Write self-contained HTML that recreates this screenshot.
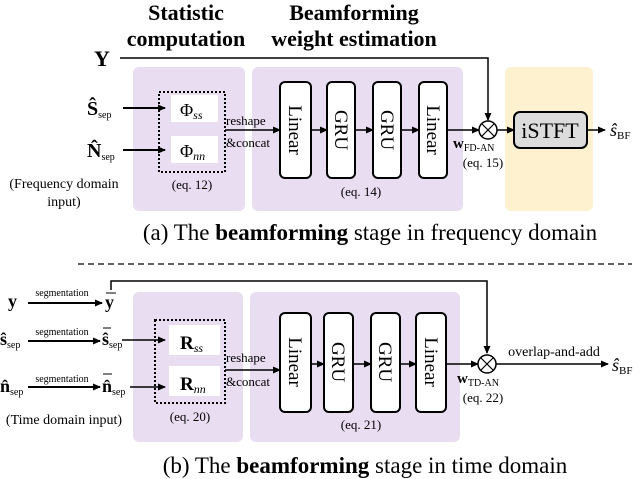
<!DOCTYPE html>
<html><head><meta charset="utf-8"><style>body{margin:0;background:#fff}svg{display:block}text{font-family:"Liberation Serif",serif}</style></head><body>
<svg width="640" height="479" viewBox="0 0 640 479" xmlns="http://www.w3.org/2000/svg" font-family="'Liberation Serif', serif">
<defs><marker id="a" markerWidth="8" markerHeight="8" refX="7" refY="4" orient="auto" markerUnits="userSpaceOnUse"><path d="M0,0.5 L8,4 L0,7.5z" fill="#000"/></marker></defs>
<text x="186" y="20" style="font-family:'Liberation Serif',serif;font-size:22px;font-weight:bold" text-anchor="middle">Statistic</text>
<text x="186" y="46" style="font-family:'Liberation Serif',serif;font-size:22px;font-weight:bold" text-anchor="middle">computation</text>
<text x="354" y="20" style="font-family:'Liberation Serif',serif;font-size:22px;font-weight:bold" text-anchor="middle">Beamforming</text>
<text x="354" y="46" style="font-family:'Liberation Serif',serif;font-size:22px;font-weight:bold" text-anchor="middle">weight estimation</text>
<rect x="133" y="67" width="112" height="144" rx="6" fill="#e9ddf1"/>
<rect x="252" y="67" width="211" height="144" rx="6" fill="#e9ddf1"/>
<rect x="505" y="67" width="88" height="144" rx="6" fill="#fdf1cf"/>
<text x="94" y="66" font-size="22" font-weight="bold">Y</text>
<polyline points="120,58 488,58 488,120" fill="none" stroke="#000" stroke-width="1.5" marker-end="url(#a)"/>
<text x="87" y="115" font-size="20" font-weight="bold">Ŝ<tspan font-size="10" font-weight="normal" dy="3">sep</tspan></text>
<text x="87" y="157" font-size="20" font-weight="bold">N̂<tspan font-size="10" font-weight="normal" dy="3">sep</tspan></text>
<line x1="123" y1="108" x2="165" y2="108" stroke="#000" stroke-width="2" marker-end="url(#a)"/>
<line x1="123" y1="150" x2="165" y2="150" stroke="#000" stroke-width="2" marker-end="url(#a)"/>
<rect x="159" y="92" width="66" height="80" fill="none" stroke="#000" stroke-width="2" stroke-dasharray="2,2"/>
<rect x="171" y="95" width="47" height="27" fill="#fff"/>
<rect x="171" y="136" width="47" height="27" fill="#fff"/>
<text x="180" y="116" font-size="18">Φ<tspan font-size="12" font-style="italic" dy="3">ss</tspan></text>
<text x="180" y="157" font-size="18">Φ<tspan font-size="12" font-style="italic" dy="3">nn</tspan></text>
<text x="192" y="189" font-size="13" text-anchor="middle">(eq. 12)</text>
<text x="64" y="188" font-size="14" text-anchor="middle">(Frequency domain</text>
<text x="64" y="206" font-size="14" text-anchor="middle">input)</text>
<text x="226" y="125" font-size="13">reshape</text>
<text x="226" y="147" font-size="13">&amp;concat</text>
<line x1="225" y1="130" x2="280" y2="130" stroke="#000" stroke-width="1.5" marker-end="url(#a)"/>
<g stroke="#000" stroke-width="2" fill="#fff">
<rect x="280" y="82" width="31" height="96" rx="5"/><rect x="327" y="82" width="28" height="96" rx="5"/><rect x="373" y="82" width="28" height="96" rx="5"/><rect x="419" y="82" width="28" height="96" rx="5"/>
</g>
<g stroke="#000" stroke-width="1.5">
<line x1="311" y1="130" x2="327" y2="130" marker-end="url(#a)"/><line x1="355" y1="130" x2="373" y2="130" marker-end="url(#a)"/><line x1="401" y1="130" x2="419" y2="130" marker-end="url(#a)"/><line x1="447" y1="130" x2="479" y2="130" marker-end="url(#a)"/><line x1="497" y1="130" x2="514" y2="130" marker-end="url(#a)"/><line x1="587" y1="130" x2="605" y2="130" marker-end="url(#a)"/>
</g>
<g font-size="19">
<text transform="translate(289,130) rotate(90)" text-anchor="middle">Linear</text>
<text transform="translate(335,130) rotate(90)" text-anchor="middle">GRU</text>
<text transform="translate(381,130) rotate(90)" text-anchor="middle">GRU</text>
<text transform="translate(427,130) rotate(90)" text-anchor="middle">Linear</text>
</g>
<text x="361" y="196" font-size="13" text-anchor="middle">(eq. 14)</text>
<circle cx="488" cy="130" r="9" fill="#fff" stroke="#000" stroke-width="1.5"/>
<path d="M482,124 L494,136 M494,124 L482,136" stroke="#000" stroke-width="1.2"/>
<text x="453" y="148" font-size="15" font-weight="bold">w<tspan font-size="10" font-weight="normal" dy="3">FD-AN</tspan></text>
<text x="483" y="167" font-size="13" text-anchor="middle">(eq. 15)</text>
<rect x="514" y="112" width="73" height="36" rx="6" fill="#dcdcdc" stroke="#000" stroke-width="2"/>
<text x="550" y="138" font-size="22" text-anchor="middle">iSTFT</text>
<text x="610" y="136" font-size="18" font-style="italic">ŝ<tspan font-size="11" font-style="normal" dy="3">BF</tspan></text>
<text x="370" y="240" font-size="23" text-anchor="middle">(a) The <tspan font-weight="bold">beamforming</tspan> stage in frequency domain</text>
<line x1="78" y1="264" x2="632" y2="264" stroke="#000" stroke-width="1.3" stroke-dasharray="6,4"/>
<rect x="133" y="292" width="110" height="150" rx="6" fill="#e9ddf1"/>
<rect x="250" y="292" width="210" height="150" rx="6" fill="#e9ddf1"/>
<polyline points="111,290 111,281 487,281 487,353" fill="none" stroke="#000" stroke-width="1.5" marker-end="url(#a)"/>
<text x="8" y="307" font-size="18" font-weight="bold">y</text>
<text x="105" y="308" font-size="18" font-weight="bold">y</text><line x1="106" y1="293" x2="116" y2="293" stroke="#000"/>
<text x="62" y="296" font-size="10" text-anchor="middle">segmentation</text>
<line x1="28" y1="303" x2="102" y2="303" stroke="#000" stroke-width="2" marker-end="url(#a)"/>
<text x="0" y="345" font-size="18" font-weight="bold">ŝ<tspan font-size="10" font-weight="normal" dy="3">sep</tspan></text>
<text x="62" y="335" font-size="10" text-anchor="middle">segmentation</text>
<line x1="28" y1="341" x2="100" y2="341" stroke="#000" stroke-width="2" marker-end="url(#a)"/>
<text x="102" y="345" font-size="18" font-weight="bold">ŝ<tspan font-size="10" font-weight="normal" dy="3">sep</tspan></text><line x1="103" y1="328" x2="111" y2="328" stroke="#000"/>
<line x1="122" y1="340" x2="165" y2="340" stroke="#000" stroke-width="1.5" marker-end="url(#a)"/>
<text x="0" y="392" font-size="18" font-weight="bold">n̂<tspan font-size="10" font-weight="normal" dy="3">sep</tspan></text>
<text x="62" y="382" font-size="10" text-anchor="middle">segmentation</text>
<line x1="28" y1="387" x2="100" y2="387" stroke="#000" stroke-width="2" marker-end="url(#a)"/>
<text x="102" y="392" font-size="18" font-weight="bold">n̂<tspan font-size="10" font-weight="normal" dy="3">sep</tspan></text><line x1="103" y1="374" x2="112" y2="374" stroke="#000"/>
<line x1="130" y1="387" x2="165" y2="387" stroke="#000" stroke-width="1.5" marker-end="url(#a)"/>
<text x="64" y="424" font-size="14" text-anchor="middle">(Time domain input)</text>
<rect x="155" y="320" width="70" height="83" fill="none" stroke="#000" stroke-width="2" stroke-dasharray="2,2"/>
<rect x="169" y="325" width="51" height="30" fill="#fff"/>
<rect x="169" y="366" width="51" height="30" fill="#fff"/>
<text x="180" y="349" font-size="19" font-weight="bold">R<tspan font-size="12" font-weight="normal" font-style="italic" dy="3">ss</tspan></text>
<text x="180" y="390" font-size="19" font-weight="bold">R<tspan font-size="12" font-weight="normal" font-style="italic" dy="3">nn</tspan></text>
<text x="190" y="421" font-size="13" text-anchor="middle">(eq. 20)</text>
<text x="226" y="362" font-size="13">reshape</text>
<text x="226" y="386" font-size="13">&amp;concat</text>
<line x1="225" y1="370" x2="280" y2="370" stroke="#000" stroke-width="1.5" marker-end="url(#a)"/>
<g stroke="#000" stroke-width="2" fill="#fff">
<rect x="280" y="313" width="31" height="99" rx="5"/><rect x="324" y="313" width="29" height="99" rx="5"/><rect x="371" y="313" width="29" height="99" rx="5"/><rect x="416" y="313" width="30" height="99" rx="5"/>
</g>
<g stroke="#000" stroke-width="1.5">
<line x1="311" y1="364" x2="324" y2="364" marker-end="url(#a)"/><line x1="353" y1="364" x2="371" y2="364" marker-end="url(#a)"/><line x1="400" y1="364" x2="416" y2="364" marker-end="url(#a)"/><line x1="446" y1="364" x2="478" y2="364" marker-end="url(#a)"/><line x1="496" y1="364" x2="608" y2="364" marker-end="url(#a)"/>
</g>
<g font-size="19">
<text transform="translate(289,362) rotate(90)" text-anchor="middle">Linear</text>
<text transform="translate(332,362) rotate(90)" text-anchor="middle">GRU</text>
<text transform="translate(379,362) rotate(90)" text-anchor="middle">GRU</text>
<text transform="translate(425,362) rotate(90)" text-anchor="middle">Linear</text>
</g>
<text x="361" y="429" font-size="13" text-anchor="middle">(eq. 21)</text>
<circle cx="487" cy="364" r="9" fill="#fff" stroke="#000" stroke-width="1.5"/>
<path d="M481,358 L493,370 M493,358 L481,370" stroke="#000" stroke-width="1.2"/>
<text x="457" y="383" font-size="15" font-weight="bold">w<tspan font-size="10" font-weight="normal" dy="3">TD-AN</tspan></text>
<text x="483" y="402" font-size="13" text-anchor="middle">(eq. 22)</text>
<text x="554" y="356" font-size="14" text-anchor="middle">overlap-and-add</text>
<text x="612" y="371" font-size="18" font-style="italic">ŝ<tspan font-size="11" font-style="normal" dy="3">BF</tspan></text>
<text x="365" y="473" font-size="23" text-anchor="middle">(b) The <tspan font-weight="bold">beamforming</tspan> stage in time domain</text>
</svg>
</body></html>
